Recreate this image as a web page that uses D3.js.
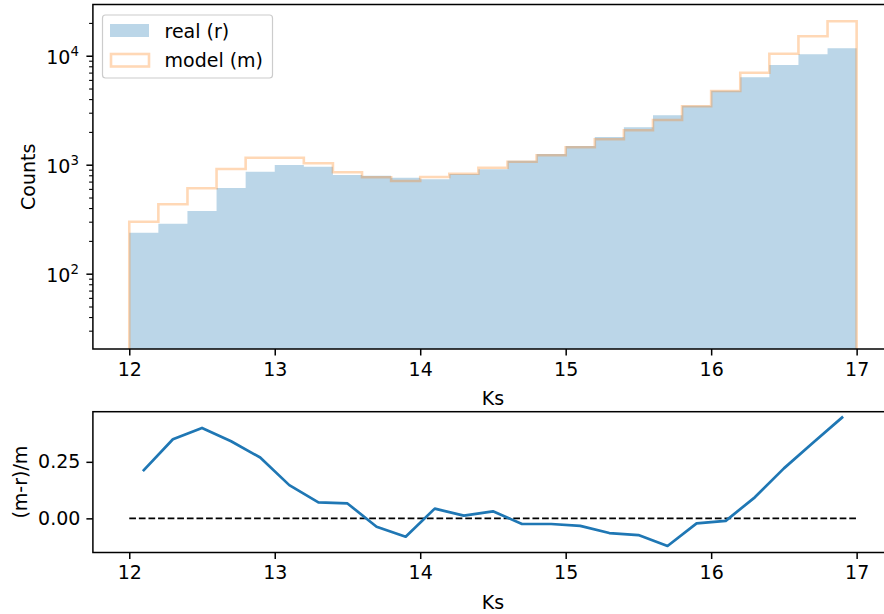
<!DOCTYPE html>
<html>
<head>
<meta charset="utf-8">
<script src="https://cdn.jsdelivr.net/npm/d3@7/dist/d3.min.js"></script>
<style>
  html, body { margin: 0; padding: 0; background: #fff; }
  svg { display: block; font-family: "DejaVu Sans", sans-serif; }
</style>
</head>
<body>
<svg id="chart" width="884" height="614"></svg>
<script>
// ---- data ----
const binEdges = [12.0, 12.2, 12.4, 12.6, 12.8, 13.0, 13.2, 13.4, 13.6, 13.8, 14.0, 14.2, 14.4,
  14.6, 14.8, 15.0, 15.2, 15.4, 15.6, 15.8, 16.0, 16.2, 16.4, 16.6, 16.8, 17.0];
const realCounts = [238, 288, 376, 611, 862, 994, 959, 804, 793, 760, 735, 822, 908,
  1088, 1254, 1484, 1796, 2204, 2840, 3478, 4775, 6339, 8222, 10300, 11690];
const modelCounts = [300, 433, 608, 913, 1160, 1160, 1030, 852, 766, 709, 771, 827, 939,
  1065, 1220, 1444, 1710, 2068, 2570, 3441, 4745, 6982, 10430, 15070, 20690];
const binCenters = [12.1, 12.3, 12.5, 12.7, 12.9, 13.1, 13.3, 13.5, 13.7, 13.9, 14.1, 14.3, 14.5,
  14.7, 14.9, 15.1, 15.3, 15.5, 15.7, 15.9, 16.1, 16.3, 16.5, 16.7, 16.9];
const residual = [0.213, 0.350, 0.400, 0.341, 0.269, 0.147, 0.071, 0.066, -0.037, -0.081, 0.043, 0.012, 0.031,
  -0.025, -0.025, -0.033, -0.065, -0.074, -0.122, -0.022, -0.011, 0.093, 0.221, 0.334, 0.446];
const xTicks = [12, 13, 14, 15, 16, 17];
const yMajorTicks = [100, 1000, 10000];
const yMajorExp = ["2", "3", "4"];
const resTicks = [0.0, 0.25];
const resTickLabels = ["0.00", "0.25"];
const seriesNames = ["real (r)", "model (m)"];
const xLabel = "Ks";
const yLabelTop = "Counts";
const yLabelBottom = "(m-r)/m";

// ---- layout ----
const svg = d3.select("#chart");
const FS = 19;
const left = 92.9, right = 893;
const top1 = 4.5, bot1 = 349;
const top2 = 411.7, bot2 = 552.5;
const blue = "#1f77b4", orange = "#ff7f0e";

const x = d3.scaleLinear().domain([11.75, 17.25]).range([left, right]);
const y = d3.scaleLog().domain([Math.pow(10, 1.309), Math.pow(10, 4.47)]).range([bot1, top1]);
const y2 = d3.scaleLinear().domain([-0.151, 0.4717]).range([bot2, top2]);

const defs = svg.append("defs");
defs.append("clipPath").attr("id", "clip1").append("rect")
  .attr("x", left).attr("y", top1).attr("width", right - left).attr("height", bot1 - top1);
defs.append("clipPath").attr("id", "clip2").append("rect")
  .attr("x", left).attr("y", top2).attr("width", right - left).attr("height", bot2 - top2);

// ---- top panel: histograms ----
const g1 = svg.append("g").attr("clip-path", "url(#clip1)");
const pts = (arr) => {
  const p = arr.map((v, i) => [binEdges[i], v]);
  p.push([binEdges[binEdges.length - 1], arr[arr.length - 1]]);
  return p;
};
const area = d3.area().curve(d3.curveStepAfter)
  .x(d => x(d[0])).y0(bot1).y1(d => y(d[1]));
g1.append("path").datum(pts(realCounts))
  .attr("d", area).attr("fill", blue).attr("fill-opacity", 0.3);

const stepPts = [[binEdges[0], y.domain()[0]]].concat(pts(modelCounts))
  .concat([[binEdges[binEdges.length - 1], y.domain()[0]]]);
const line = d3.line().curve(d3.curveStepAfter).x(d => x(d[0])).y(d => y(d[1]));
g1.append("path").datum(stepPts)
  .attr("d", line).attr("fill", "none").attr("stroke", orange)
  .attr("stroke-opacity", 0.3).attr("stroke-width", 2.6);

// spines top panel
svg.append("rect").attr("x", left).attr("y", top1).attr("width", right - left).attr("height", bot1 - top1)
  .attr("fill", "none").attr("stroke", "#000").attr("stroke-width", 1.5);

// x axis
function xAxis(yPos) {
  const ax = svg.append("g").attr("transform", `translate(0,${yPos})`)
    .call(d3.axisBottom(x).tickValues(xTicks).tickFormat(d3.format("d")).tickSize(6.5).tickPadding(7));
  ax.select(".domain").remove();
  ax.selectAll(".tick line").attr("stroke", "#000").attr("stroke-width", 1.5);
  ax.selectAll(".tick text").attr("font-size", FS).attr("font-family", "DejaVu Sans").attr("fill", "#000");
  return ax;
}
xAxis(bot1);

// y log axis: minor ticks
const minor = [];
[10, 100, 1000, 10000].forEach(d => { for (let k = 2; k <= 9; k++) minor.push(d * k); });
const [ymin, ymax] = y.domain();
const gy = svg.append("g").attr("transform", `translate(${left},0)`);
gy.call(d3.axisLeft(y).tickValues(minor.filter(v => v >= ymin && v <= ymax)).tickFormat("").tickSize(3.8));
gy.select(".domain").remove();
gy.selectAll(".tick line").attr("stroke", "#000").attr("stroke-width", 1.1);
const gyM = svg.append("g").attr("transform", `translate(${left},0)`);
gyM.call(d3.axisLeft(y).tickValues(yMajorTicks).tickFormat("").tickSize(6.5));
gyM.select(".domain").remove();
gyM.selectAll(".tick line").attr("stroke", "#000").attr("stroke-width", 1.5);
yMajorTicks.forEach((v, i) => {
  const t = svg.append("text").attr("x", left - 14).attr("y", y(v) + 8.5)
    .attr("text-anchor", "end").attr("font-size", FS).attr("fill", "#000");
  t.append("tspan").text("10");
  t.append("tspan").attr("dy", -8).attr("font-size", 13.3).text(yMajorExp[i]);
});

// labels top panel
svg.append("text").attr("x", (left + right) / 2).attr("y", bot1 + 56)
  .attr("text-anchor", "middle").attr("font-size", FS).attr("fill", "#000").text(xLabel);
svg.append("text").attr("transform", `translate(34.5,${(top1 + bot1) / 2}) rotate(-90)`)
  .attr("text-anchor", "middle").attr("font-size", FS).attr("fill", "#000").text(yLabelTop);

// legend
const lg = svg.append("g");
lg.append("rect").attr("x", 102.5).attr("y", 15).attr("width", 170).attr("height", 63).attr("rx", 3)
  .attr("fill", "#fff").attr("fill-opacity", 0.8).attr("stroke", "#cccccc").attr("stroke-width", 1.2);
lg.append("rect").attr("x", 110).attr("y", 24).attr("width", 39).attr("height", 13)
  .attr("fill", blue).attr("fill-opacity", 0.3);
lg.append("rect").attr("x", 111).attr("y", 54).attr("width", 38).attr("height", 12.5)
  .attr("fill", "none").attr("stroke", orange).attr("stroke-opacity", 0.3).attr("stroke-width", 2.6);
lg.append("text").attr("x", 164.5).attr("y", 37.5).attr("font-size", FS).attr("fill", "#000").text(seriesNames[0]);
lg.append("text").attr("x", 164.5).attr("y", 67).attr("font-size", FS).attr("fill", "#000").text(seriesNames[1]);

// ---- bottom panel: residual ----
const g2 = svg.append("g").attr("clip-path", "url(#clip2)");
g2.append("line").attr("x1", x(binEdges[0])).attr("x2", x(binEdges[binEdges.length - 1]))
  .attr("y1", y2(0)).attr("y2", y2(0))
  .attr("stroke", "#000").attr("stroke-width", 1.8).attr("stroke-dasharray", "6.7,2.9");
const rline = d3.line().x((d, i) => x(binCenters[i])).y(d => y2(d));
g2.append("path").datum(residual).attr("d", rline)
  .attr("fill", "none").attr("stroke", blue).attr("stroke-width", 2.7)
  .attr("stroke-linejoin", "round").attr("stroke-linecap", "square");

svg.append("rect").attr("x", left).attr("y", top2).attr("width", right - left).attr("height", bot2 - top2)
  .attr("fill", "none").attr("stroke", "#000").attr("stroke-width", 1.5);
xAxis(bot2);

const gy2 = svg.append("g").attr("transform", `translate(${left},0)`);
gy2.call(d3.axisLeft(y2).tickValues(resTicks).tickFormat((d, i) => resTickLabels[i]).tickSize(6.5).tickPadding(6));
gy2.select(".domain").remove();
gy2.selectAll(".tick line").attr("stroke", "#000").attr("stroke-width", 1.5);
gy2.selectAll(".tick text").attr("font-size", FS).attr("font-family", "DejaVu Sans").attr("fill", "#000");

svg.append("text").attr("x", (left + right) / 2).attr("y", bot2 + 56)
  .attr("text-anchor", "middle").attr("font-size", FS).attr("fill", "#000").text(xLabel);
svg.append("text").attr("transform", `translate(27,${(top2 + bot2) / 2}) rotate(-90)`)
  .attr("text-anchor", "middle").attr("font-size", FS).attr("fill", "#000").text(yLabelBottom);
</script>
</body>
</html>
